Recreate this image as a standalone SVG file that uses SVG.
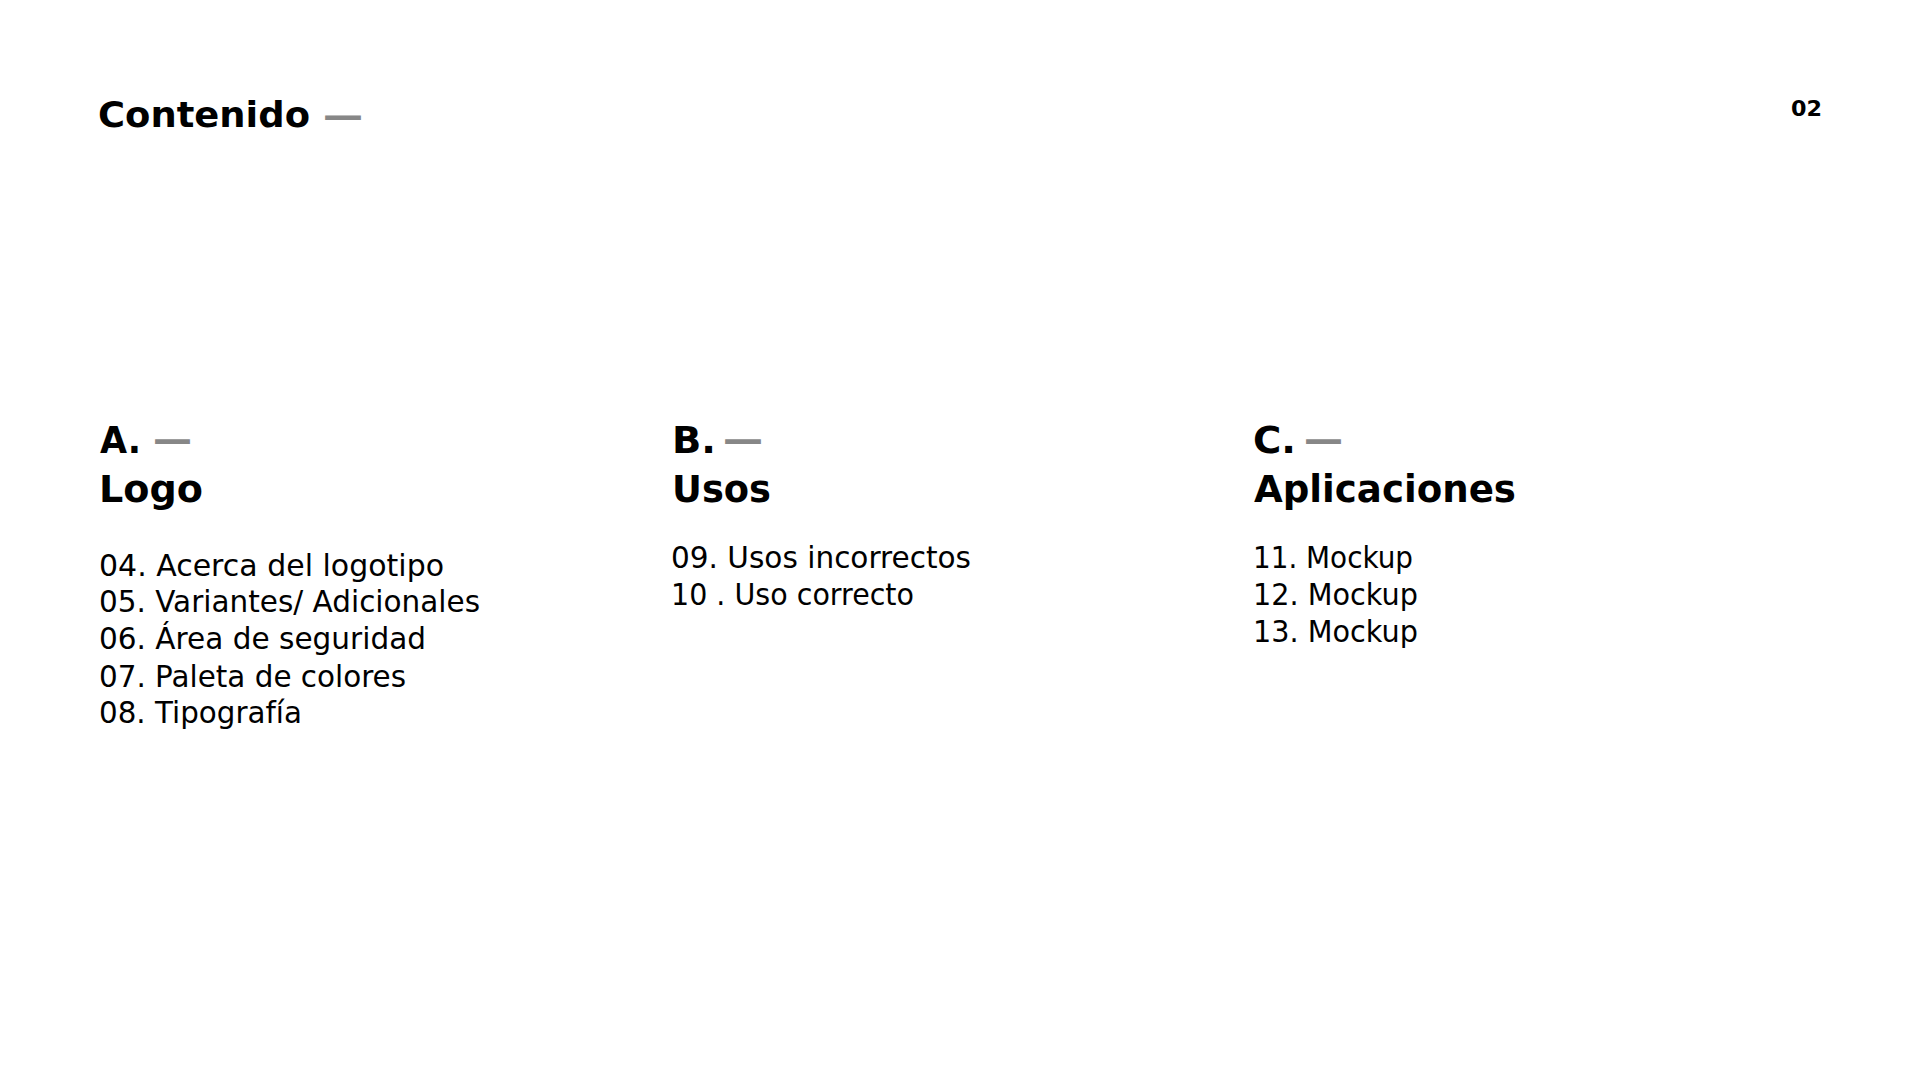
<svg xmlns="http://www.w3.org/2000/svg" width="1920" height="1080" viewBox="0 0 1920 1080">
  <style>
    text { font-family: "DejaVu Sans", "Liberation Sans", sans-serif; fill: #000; }
    .title { font-size: 36px; font-weight: 700; }
    .page { font-size: 21px; font-weight: 700; }
    .head { font-size: 37px; font-weight: 700; }
    .item { font-size: 30px; font-weight: 400; }
    .dash { fill: #878787; font-weight: 700; }
  </style>
  <rect width="1920" height="1080" fill="#ffffff"/>
  <g id="header">
    <text class="title" x="98" y="127" textLength="212" lengthAdjust="spacingAndGlyphs">Contenido</text>
    <text class="title dash" x="323" y="128" textLength="40" lengthAdjust="spacingAndGlyphs">—</text>
    <text class="page" x="1791" y="116" textLength="31" lengthAdjust="spacingAndGlyphs">02</text>
  </g>
  <g id="section-a">
    <text class="head" x="100" y="453" textLength="41" lengthAdjust="spacingAndGlyphs">A.</text>
    <text class="head dash" x="153" y="452" textLength="39" lengthAdjust="spacingAndGlyphs">—</text>
    <text class="head" x="99" y="502" textLength="104" lengthAdjust="spacingAndGlyphs">Logo</text>
    <text class="item" x="99" y="576" textLength="345" lengthAdjust="spacingAndGlyphs">04. Acerca del logotipo</text>
    <text class="item" x="99" y="612" textLength="381" lengthAdjust="spacingAndGlyphs">05. Variantes/ Adicionales</text>
    <text class="item" x="99" y="649" textLength="327" lengthAdjust="spacingAndGlyphs">06. Área de seguridad</text>
    <text class="item" x="99" y="687" textLength="307" lengthAdjust="spacingAndGlyphs">07. Paleta de colores</text>
    <text class="item" x="99" y="723" textLength="203" lengthAdjust="spacingAndGlyphs">08. Tipografía</text>
  </g>
  <g id="section-b">
    <text class="head" x="672" y="453" textLength="44" lengthAdjust="spacingAndGlyphs">B.</text>
    <text class="head dash" x="723" y="452" textLength="40" lengthAdjust="spacingAndGlyphs">—</text>
    <text class="head" x="672" y="502" textLength="99" lengthAdjust="spacingAndGlyphs">Usos</text>
    <text class="item" x="671" y="568" textLength="300" lengthAdjust="spacingAndGlyphs">09. Usos incorrectos</text>
    <text class="item" x="671" y="605" textLength="243" lengthAdjust="spacingAndGlyphs">10 . Uso correcto</text>
  </g>
  <g id="section-c">
    <text class="head" x="1253" y="453" textLength="43" lengthAdjust="spacingAndGlyphs">C.</text>
    <text class="head dash" x="1304" y="452" textLength="39" lengthAdjust="spacingAndGlyphs">—</text>
    <text class="head" x="1254" y="502" textLength="262" lengthAdjust="spacingAndGlyphs">Aplicaciones</text>
    <text class="item" x="1253" y="568" textLength="160" lengthAdjust="spacingAndGlyphs">11. Mockup</text>
    <text class="item" x="1253" y="605" textLength="165" lengthAdjust="spacingAndGlyphs">12. Mockup</text>
    <text class="item" x="1253" y="642" textLength="165" lengthAdjust="spacingAndGlyphs">13. Mockup</text>
  </g>
  <g id="connectors"></g>
</svg>
